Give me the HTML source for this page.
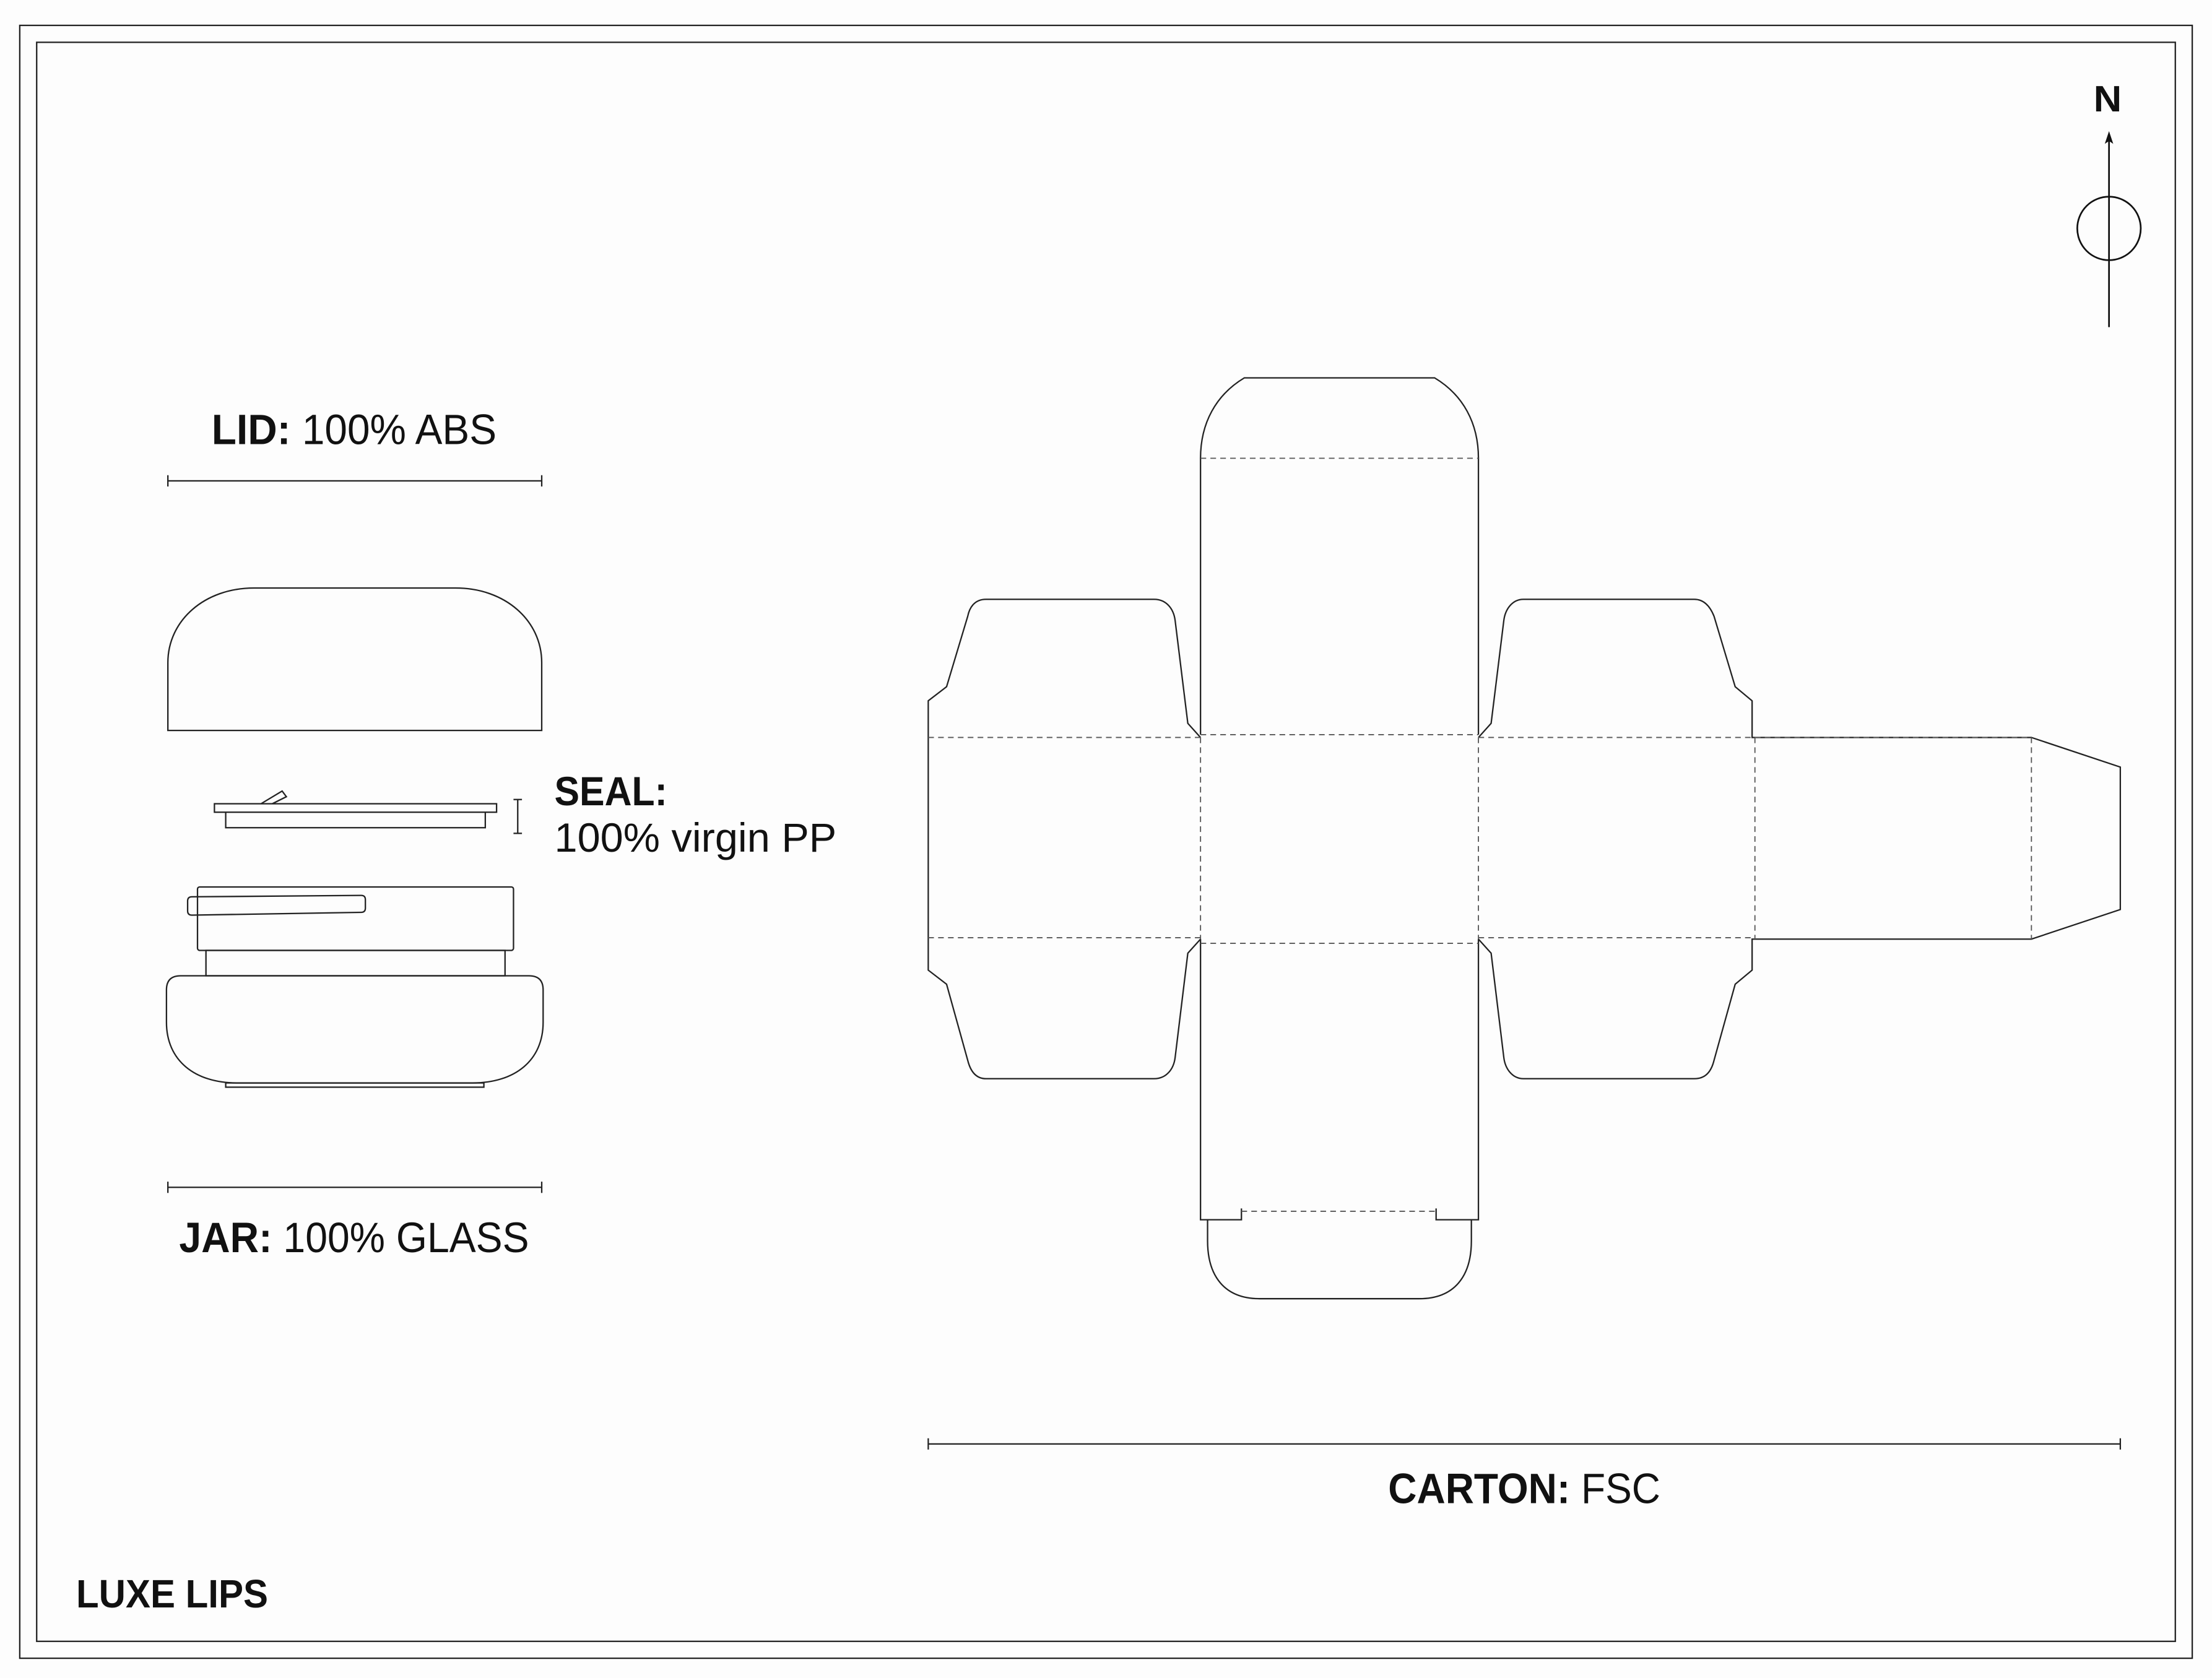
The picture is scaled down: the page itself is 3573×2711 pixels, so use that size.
<!DOCTYPE html>
<html><head><meta charset="utf-8"><style>
html,body{margin:0;padding:0;background:#fdfdfd;}
svg{display:block;}
text{font-family:"Liberation Sans",sans-serif;fill:#111;}
</style></head><body>
<svg width="3573" height="2711" viewBox="0 0 1568 1190" preserveAspectRatio="none" xmlns="http://www.w3.org/2000/svg">
<rect x="0" y="0" width="1568" height="1190" fill="#fdfdfd"/>
<g fill="none" stroke="#222" stroke-width="1">
<rect x="14" y="18" width="1540" height="1158"/>
<rect x="26" y="30" width="1516" height="1134"/>
</g>
<!-- compass -->
<text x="1484" y="79" font-size="26" font-weight="bold" textLength="20" lengthAdjust="spacingAndGlyphs">N</text>
<g stroke="#111" stroke-width="1.2" fill="none">
<line x1="1495" y1="100" x2="1495" y2="232"/>
<circle cx="1495" cy="162" r="22.5"/>
</g>
<path d="M1495,93 L1498,102 L1495,100 L1492,102 Z" fill="#111"/>

<!-- left labels -->
<text x="150" y="315" font-size="30" textLength="202" lengthAdjust="spacingAndGlyphs"><tspan font-weight="bold">LID:</tspan> 100% ABS</text>
<text x="127" y="888" font-size="30" textLength="248" lengthAdjust="spacingAndGlyphs"><tspan font-weight="bold">JAR:</tspan> 100% GLASS</text>
<text x="393" y="571" font-size="29" font-weight="bold" textLength="80" lengthAdjust="spacingAndGlyphs">SEAL:</text>
<text x="393" y="604" font-size="29" textLength="200" lengthAdjust="spacingAndGlyphs">100% virgin PP</text>
<text x="54" y="1140" font-size="28" font-weight="bold" textLength="136" lengthAdjust="spacingAndGlyphs">LUXE LIPS</text>
<text x="984" y="1066" font-size="30" textLength="193" lengthAdjust="spacingAndGlyphs"><tspan font-weight="bold">CARTON:</tspan> FSC</text>

<g fill="none" stroke="#222" stroke-width="1">
<!-- dim lines -->
<line x1="119" y1="341" x2="384" y2="341"/><line x1="119" y1="337" x2="119" y2="345"/><line x1="384" y1="337" x2="384" y2="345"/>
<line x1="119" y1="842" x2="384" y2="842"/><line x1="119" y1="838" x2="119" y2="846"/><line x1="384" y1="838" x2="384" y2="846"/>
<line x1="658" y1="1024" x2="1503" y2="1024"/><line x1="658" y1="1020" x2="658" y2="1028"/><line x1="1503" y1="1020" x2="1503" y2="1028"/>
<line x1="367" y1="567" x2="367" y2="591"/><line x1="364" y1="567" x2="370" y2="567"/><line x1="364" y1="591" x2="370" y2="591"/>
<!-- lid -->
<path d="M119,518 L119,470 C119,440 145,417 180,417 L323,417 C358,417 384,440 384,470 L384,518 Z"/>
<!-- seal -->
<rect x="152" y="570" width="200" height="6"/>
<path d="M160,576 L160,587 L344,587 L344,576"/>
<path d="M185,570 L200,561 L203,565 L193,570"/>
<!-- jar -->
<rect x="140" y="629" width="224" height="45" rx="1.5"/>
<path d="M136,636 L256,635 Q259,635 259,638 L259,644 Q259,647 256,647 L136,649 Q133,649 133,646 L133,639 Q133,636 136,636 Z"/>
<rect x="146" y="674" width="212" height="18"/>
<path d="M128,692 L375,692 Q385,692 385,702 L385,725 C385,752 365,768 335,768 L168,768 C138,768 118,752 118,725 L118,702 Q118,692 128,692 Z"/>
<rect x="160" y="768" width="183" height="3"/>

<!-- carton -->
<path d="M851,521 L851,325 C851,300 862,280 882,268 L1017,268 C1037,280 1048,300 1048,325 L1048,521"/>
<path d="M851,666 L851,865 L880,865 L880,857"/>
<path d="M1048,666 L1048,865 L1018,865 L1018,857"/>
<path d="M856,865 L856,880 C856,905 868,921 893,921 L1006,921 C1031,921 1043,905 1043,880 L1043,865"/>
<path d="M851,523 L842,513 L833,440 C832,432 827,425 818,425 L699,425 C690,425 687,432 686,437 L671,487 L658,497 L658,688 L671,698 L686,752 C688,760 692,765 699,765 L818,765 C827,765 832,758 833,750 L842,676 L851,666"/>
<path d="M1048,523 L1057,513 L1066,440 C1067,432 1072,425 1080,425 L1201,425 C1209,425 1213,432 1215,437 L1230,487 L1242,497 L1242,523 L1440,523 L1503,544 L1503,645 L1440,666 L1242,666 L1242,688 L1230,698 L1215,752 C1213,760 1209,765 1201,765 L1080,765 C1072,765 1067,758 1066,750 L1057,676 L1048,666"/>
</g>
<g fill="none" stroke="#555" stroke-width="0.8" stroke-dasharray="4,3">
<line x1="851" y1="325" x2="1048" y2="325"/>
<line x1="658" y1="523" x2="851" y2="523"/>
<line x1="851" y1="521" x2="1048" y2="521"/>
<line x1="1048" y1="523" x2="1440" y2="523"/>
<line x1="658" y1="665" x2="851" y2="665"/>
<line x1="851" y1="669" x2="1048" y2="669"/>
<line x1="1048" y1="665" x2="1242" y2="665"/>
<line x1="851" y1="523" x2="851" y2="666"/>
<line x1="1048" y1="523" x2="1048" y2="666"/>
<line x1="1244" y1="523" x2="1244" y2="666"/>
<line x1="1440" y1="523" x2="1440" y2="666"/>
<line x1="880" y1="859" x2="1018" y2="859"/>
</g>
</svg>
</body></html>
